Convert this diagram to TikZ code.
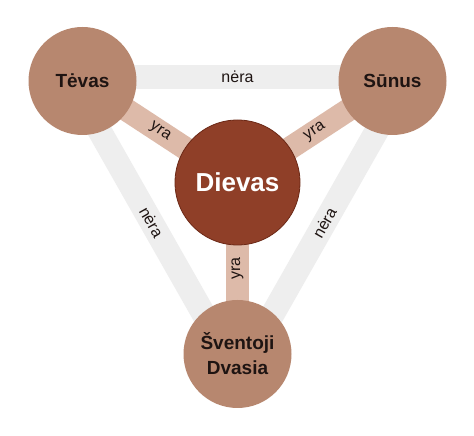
\documentclass[tikz,border=0pt]{standalone}
\usepackage{fontspec}
\setmainfont{Liberation Sans}
\definecolor{tan}{HTML}{B7876F}
\definecolor{dievfill}{HTML}{8F3F28}
\definecolor{dievline}{HTML}{6B2816}
\definecolor{yrabar}{HTML}{DDBAA9}
\definecolor{nerabar}{HTML}{EEEEEE}
\definecolor{darktext}{HTML}{1E1412}
\tikzset{
  outer/.style={circle, fill=tan, minimum size=108pt, inner sep=0pt, text=darktext,
    font=\fontsize{19}{25}\selectfont\bfseries, align=center},
  god/.style={circle, fill=dievfill, draw=dievline, line width=0.8pt, minimum size=125pt,
    inner sep=0pt, text=white, font=\fontsize{26}{30}\selectfont\bfseries},
  nerastyle/.style={draw=nerabar, line width=24pt},
  yrastyle/.style={draw=yrabar, line width=23pt},
  lbl/.style={font=\fontsize{16}{18}\selectfont, text=darktext, inner sep=0pt}
}
\begin{document}
\begin{tikzpicture}[x=1pt,y=1pt]
\useasboundingbox (0,0) rectangle (474,436);
\fill[white] (0,0) rectangle (474,436);
% node positions (drawn later on top)
\coordinate (Tc) at (82.5,355);
\coordinate (Sc) at (392.5,355);
\coordinate (Dc) at (237.5,253.5);
\coordinate (Vc) at (237.5,82);
% nera bands
\draw[nerastyle] ([yshift=4]Tc) -- node[lbl, midway] (n1) {nėra} ([yshift=4]Sc);
\draw[nerastyle] ([shift={(-8.5,-4.8)}]Tc) -- node[lbl, midway, sloped] (n2) {nėra} ([shift={(-8.5,-4.8)}]Vc);
\draw[nerastyle] ([shift={(9.5,-5.4)}]Vc) -- node[lbl, midway, sloped] (n3) {nėra} ([shift={(9.5,-5.4)}]Sc);
% yra bands
\draw[yrastyle] (Tc) -- node[lbl, midway, sloped] (y1) {yra} (Dc);
\draw[yrastyle] (Dc) -- node[lbl, midway, sloped] (y2) {yra} (Sc);
\draw[yrastyle] (Vc) -- node[lbl, midway, sloped] (y3) {yra} (Dc);
% circles
\node[outer] (T) at (Tc) {Tėvas};
\node[outer] (S) at (Sc) {Sūnus};
\node[outer] (V) at (Vc) {Šventoji\\Dvasia};
\node[god] (D) at (Dc) {Dievas};
\end{tikzpicture}
\end{document}
